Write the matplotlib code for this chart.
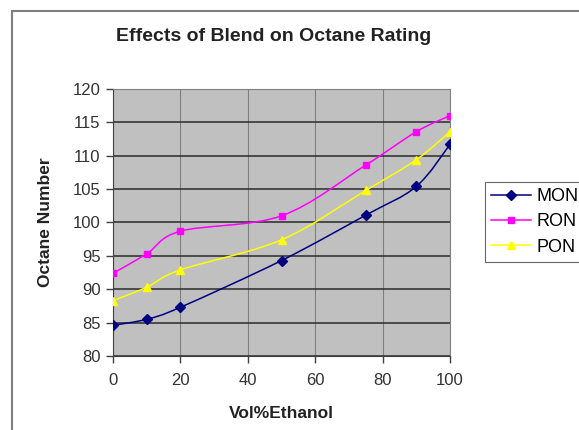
import numpy as np
import matplotlib.pyplot as plt
from matplotlib.path import Path
from matplotlib.patches import PathPatch, Rectangle
from matplotlib.lines import Line2D

plt.rcParams['font.family'] = ['Liberation Sans', 'DejaVu Sans']

# Data
ethanol = [0, 10, 20, 50, 75, 90, 100]
mon = [84.6, 85.5, 87.3, 94.3, 101.1, 105.4, 111.7]
ron = [92.4, 95.3, 98.7, 101.0, 108.6, 113.6, 116.0]
pon = [88.3, 90.3, 92.9, 97.4, 104.8, 109.4, 113.6]

series = [
    ("MON", mon, "#000080", "D", 5),
    ("RON", ron, "#FF00FF", "s", 5),
    ("PON", pon, "#FFFF00", "^", 6),
]


def smooth_path(xs, ys, t=1 / 6):
    # Excel-like smoothed line: Catmull-Rom segments as cubic Bezier curves
    pts = np.column_stack([xs, ys]).astype(float)
    n = len(pts)
    verts = [pts[0]]
    codes = [Path.MOVETO]
    for i in range(n - 1):
        p0 = pts[max(i - 1, 0)]
        p1 = pts[i]
        p2 = pts[i + 1]
        p3 = pts[min(i + 2, n - 1)]
        c1 = p1 + (p2 - p0) * t
        c2 = p2 - (p3 - p1) * t
        verts += [c1, c2, p2]
        codes += [Path.CURVE4] * 3
    return Path(verts, codes)


fig = plt.figure(figsize=(5.79, 4.30), dpi=100)
ax = fig.add_axes([0.1952, 0.1721, 0.582, 0.621])
ax.set_facecolor("#C0C0C0")

for name, vals, col, mk, ms in series:
    ax.add_patch(PathPatch(smooth_path(ethanol, vals), facecolor="none",
                           edgecolor=col, lw=1.1, zorder=3))
    ax.plot(ethanol, vals, linestyle="none", marker=mk, color=col,
            markersize=ms, zorder=4)

ax.set_xlim(0, 100)
ax.set_ylim(80, 120)
ax.set_xticks(range(0, 101, 20))
ax.set_yticks(range(80, 121, 5))
ax.yaxis.grid(True, color="#2a2a2a", lw=1.1)
ax.xaxis.grid(True, color="#808080", lw=0.8)
ax.set_axisbelow(True)

for s in ["top", "right"]:
    ax.spines[s].set_color("#808080")
ax.spines["left"].set_color("#404040")
ax.spines["bottom"].set_color("#404040")
ax.tick_params(direction="out", length=5, width=1, color="#404040",
               labelsize=12, labelcolor="#333333", pad=4)
ax.tick_params(axis="x", pad=7)

ax.set_xlabel("Vol%Ethanol", fontsize=12.5, fontweight="bold", labelpad=13,
              color="#222222")
ax.set_ylabel("Octane Number", fontsize=12.5, fontweight="bold", labelpad=14,
              color="#222222")

fig.text(0.472, 0.914, "Effects of Blend on Octane Rating", ha="center",
         va="center", fontsize=14, fontweight="bold", color="#222222")

handles = [Line2D([], [], color=c, marker=m, markersize=ms, lw=1.1)
           for _, _, c, m, ms in series]
leg = fig.legend(handles, [s[0] for s in series], loc="upper left",
                 bbox_to_anchor=(485 / 579, 1 - 182 / 430), borderaxespad=0,
                 fontsize=13, frameon=True, fancybox=False,
                 edgecolor="#404040", handlelength=2.2, borderpad=0.35,
                 labelspacing=0.45, handletextpad=0.3)
leg.get_frame().set_linewidth(0.8)

# outer chart border, cropped on the right and bottom
fig.patches.append(Rectangle((12 / 579, -0.1), 1.2, 1 - 11 / 430 + 0.1,
                             transform=fig.transFigure, fill=False,
                             edgecolor="#808080", lw=1.5, clip_on=False))

fig.savefig("out.png", dpi=100)
